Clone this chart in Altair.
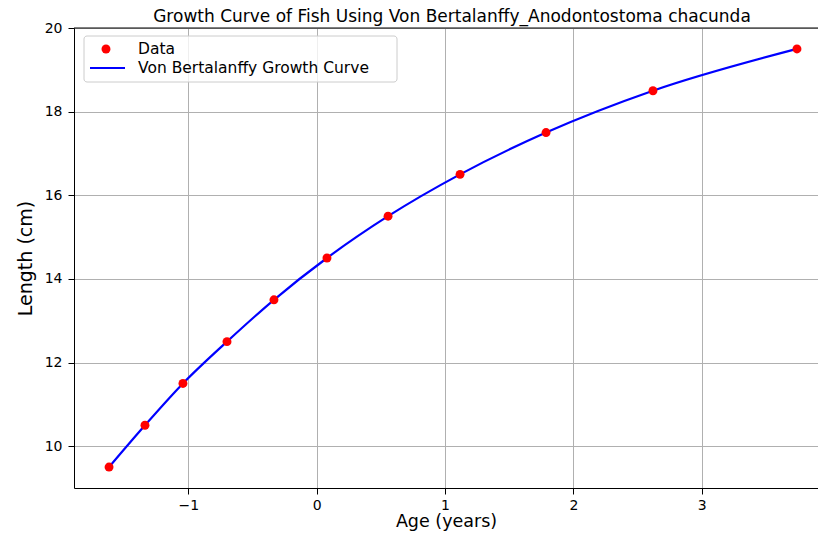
import altair as alt
import pandas as pd

# Data
ages = [-1.618, -1.338, -1.042, -0.699, -0.333, 0.080, 0.556, 1.117, 1.787, 2.620, 3.742]
lengths = [9.5, 10.5, 11.5, 12.5, 13.5, 14.5, 15.5, 16.5, 17.5, 18.5, 19.5]
legend_labels = ["Data", "Von Bertalanffy Growth Curve"]
x_ticks = [-1, 0, 1, 2, 3]
y_ticks = [10, 12, 14, 16, 18, 20]
title_text = "Growth Curve of Fish Using Von Bertalanffy_Anodontostoma chacunda"

W, H = 744, 460
FONT = "DejaVu Sans"

df = pd.DataFrame({"age": ages, "length": lengths})

xscale = alt.Scale(domain=[-1.891, 3.906], nice=False, zero=False)
yscale = alt.Scale(domain=[9, 20], nice=False, zero=False)

x_axis = alt.Axis(values=x_ticks, title="Age (years)", grid=True, format="d",
                  titlePadding=0, titleFontSize=17.5)
y_axis = alt.Axis(values=y_ticks, title="Length (cm)", grid=True, format="d",
                  titlePadding=9, titleFontSize=19)

base = alt.Chart(df)

curve = base.mark_line(color="blue", strokeWidth=2.2, interpolate="monotone").encode(
    x=alt.X("age:Q", scale=xscale, axis=x_axis),
    y=alt.Y("length:Q", scale=yscale, axis=y_axis),
)

points = base.mark_circle(color="red", size=80, opacity=1).encode(
    x=alt.X("age:Q", scale=xscale, axis=x_axis),
    y=alt.Y("length:Q", scale=yscale, axis=y_axis),
)

one = pd.DataFrame({"k": [0]})

# top spine
top_frame = alt.Chart(one).mark_rule(color="black", strokeWidth=1).encode(
    x=alt.value(0), x2=alt.value(W), y=alt.value(0)
)

# legend (drawn manually, matplotlib style)
leg_df = pd.DataFrame({"label": legend_labels, "ypos": [21, 40]})
leg_box = alt.Chart(one).mark_rect(
    fill="white", fillOpacity=0.8, stroke="#cccccc", strokeWidth=1, cornerRadius=3
).encode(x=alt.value(10), x2=alt.value(323), y=alt.value(8), y2=alt.value(54))
leg_dot = alt.Chart(one).mark_circle(color="red", size=80, opacity=1).encode(
    x=alt.value(32), y=alt.value(21)
)
leg_line = alt.Chart(one).mark_rule(color="blue", strokeWidth=2.2).encode(
    x=alt.value(16), x2=alt.value(51), y=alt.value(40)
)
leg_text = alt.Chart(leg_df).mark_text(
    align="left", baseline="middle", fontSize=15.5, font=FONT, color="black"
).encode(x=alt.value(64), y=alt.Y("ypos:Q", scale=None), text="label:N")

chart = alt.layer(curve, points, top_frame, leg_box, leg_dot, leg_line, leg_text).properties(
    width=W,
    height=H,
    title=alt.TitleParams(text=title_text, fontSize=17, font=FONT, fontWeight="normal",
                          anchor="middle", offset=-5, color="black", dx=6),
    autosize=alt.AutoSizeParams(type="none"),
    padding={"left": 66, "top": 20, "right": 0, "bottom": 43},
    background="white",
).configure_view(
    stroke=None
).configure_axis(
    labelFont=FONT, titleFont=FONT, labelFontSize=14,
    titleFontWeight="normal", labelColor="black", titleColor="black",
    domainColor="black", domainWidth=1, tickColor="black", tickSize=6, tickWidth=1,
    gridColor="#b0b0b0", gridWidth=1,
).configure_axisX(
    labelPadding=4
).configure_axisY(
    labelPadding=6
)

chart.save("out.html", embed_options={"renderer": "svg", "actions": False})
